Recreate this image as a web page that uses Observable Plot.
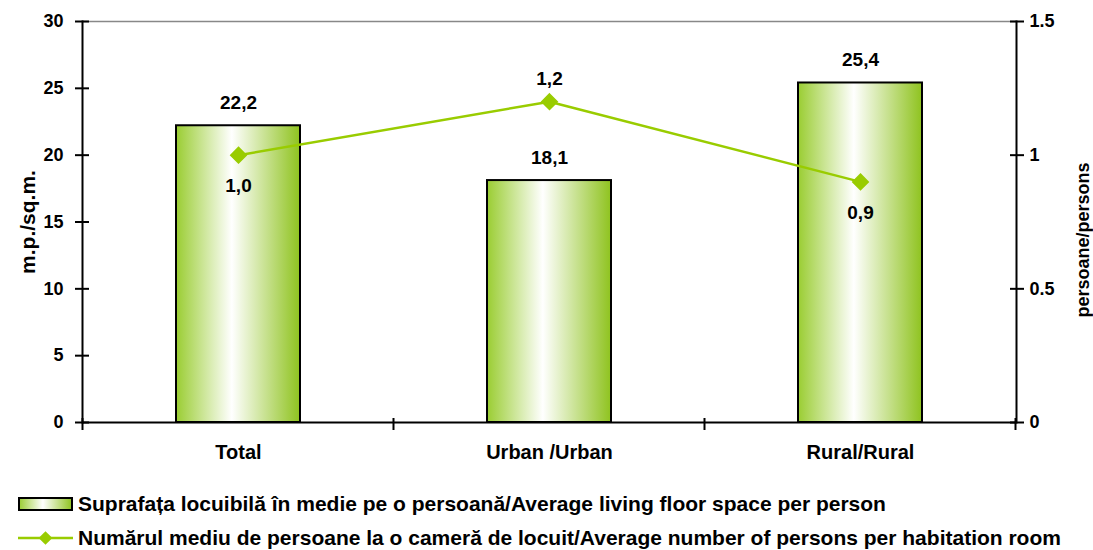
<!DOCTYPE html>
<html>
<head>
<meta charset="utf-8">
<script src="https://cdn.jsdelivr.net/npm/d3@7"></script>
<script src="https://cdn.jsdelivr.net/npm/@observablehq/plot@0.6"></script>
<style>
  html, body { margin: 0; padding: 0; background: #fff; }
  body { width: 1093px; height: 550px; position: relative; overflow: hidden;
         font-family: "Liberation Sans", Arial, sans-serif; font-weight: bold; }
  #chart { position: absolute; left: 0; top: 0; }
  .legend-item { position: absolute; left: 18px; display: flex; align-items: center;
                 font-size: 21px; color: #000; white-space: nowrap; height: 20px; }
  .legend-item svg { margin-right: 5px; flex: none; }
</style>
</head>
<body>
<div id="chart"></div>
<div class="legend-item" id="leg1" style="top:494px"></div>
<div class="legend-item" id="leg2" style="top:528px"></div>
<script>
// ---- data ----
const categories = ["Total", "Urban /Urban", "Rural/Rural"];
const floorSpace = [22.2, 18.1, 25.4];          // m.p./sq.m.
const personsPerRoom = [1.0, 1.2, 0.9];         // persoane/persons
const personLabelSide = ["below", "above", "below"];
const leftTicks = [0, 5, 10, 15, 20, 25, 30];
const rightTicks = [0, 0.5, 1, 1.5];
const seriesNames = [
  "Suprafața locuibilă în medie pe o persoană/Average living floor space per person",
  "Numărul mediu de persoane la o cameră de locuit/Average number of persons per habitation room"
];
const leftLabel = "m.p./sq.m.";
const rightLabel = "persoane/persons";

// ---- styles ----
const lineColor = "#99cc00";
const gradStops = [[0, "#9acd32"], [0.45, "#ffffff"], [1, "#8fc31f"]];
const rightMax = 1.5, leftMax = 30, k = leftMax / rightMax;

const data = categories.map((c, i) => ({
  cat: c, floor: floorSpace[i], persons: personsPerRoom[i], side: personLabelSide[i]
}));
const fmt = v => d3.format(".1f")(v).replace(".", ",");

const chart = Plot.plot({
  width: 1093,
  height: 470,
  marginLeft: 82,
  marginRight: 77,
  marginTop: 21,
  marginBottom: 48,
  style: { fontFamily: "'Liberation Sans', Arial, sans-serif", fontWeight: "bold", fontSize: "18px", color: "#000", background: "#fff" },
  x: { domain: categories, paddingInner: 0.6, paddingOuter: 0.3, axis: null },
  y: { domain: [0, leftMax], axis: null },
  marks: [
    Plot.ruleY([leftMax], { stroke: "#888", strokeWidth: 1.5 }),
    Plot.barY(data, { x: "cat", y: "floor", fill: "url(#barGrad)", stroke: "#000", strokeWidth: 2 }),
    Plot.text(data, { x: "cat", y: "floor", text: d => fmt(d.floor), dy: -23, fontSize: 19, fontWeight: "bold" }),
    Plot.line(data, { x: "cat", y: d => d.persons * k, stroke: lineColor, strokeWidth: 2.5 }),
    Plot.dot(data, { x: "cat", y: d => d.persons * k, symbol: "diamond2", r: 7, fill: lineColor, stroke: lineColor }),
    Plot.text(data, { x: "cat", y: d => d.persons * k, text: d => fmt(d.persons),
      fontSize: 19, fontWeight: "bold", filter: d => d.side === "below", dy: 31 }),
    Plot.text(data, { x: "cat", y: d => d.persons * k, text: d => fmt(d.persons),
      fontSize: 19, fontWeight: "bold", filter: d => d.side === "above", dy: -23 }),
    Plot.ruleY([0], { stroke: "#000", strokeWidth: 2 }),
    Plot.frame({ anchor: "left", stroke: "#000", strokeWidth: 2 }),
    Plot.frame({ anchor: "right", stroke: "#000", strokeWidth: 2 }),
    Plot.axisY({ anchor: "left", ticks: leftTicks, tickSize: 14, dx: 7, tickPadding: 12,
      strokeWidth: 2, fontSize: 18, label: null }),
    Plot.axisY({ anchor: "left", ticks: [], label: leftLabel, labelAnchor: "center", labelOffset: 62,
      labelArrow: "none", fontSize: 21 }),
    Plot.axisY({ anchor: "right", ticks: rightTicks.map(t => t * k), tickSize: 14, dx: -7, tickPadding: 6,
      tickFormat: v => String(v / k), strokeWidth: 2, fontSize: 18, label: null }),
    Plot.text([rightLabel], { frameAnchor: "right", text: d => d, rotate: -90, dx: 67, dy: 18,
      textAnchor: "middle", fontSize: 18, fontWeight: "bold" }),
    Plot.axisX({ anchor: "bottom", tickSize: 0, tickPadding: 22, fontSize: 20, label: null })
  ]
});
document.getElementById("chart").appendChild(chart);

// gradient definition
const svg = d3.select(chart);
const defs = svg.insert("defs", ":first-child");
const lg = defs.append("linearGradient").attr("id", "barGrad").attr("x1", 0).attr("x2", 1).attr("y1", 0).attr("y2", 0);
gradStops.forEach(([o, c]) => lg.append("stop").attr("offset", o).attr("stop-color", c));

// category boundary ticks on the bottom axis (from the band scale)
const xs = chart.scale("x"), ys = chart.scale("y");
const gap = (xs.step - xs.bandwidth) / 2;
const bounds = categories.map(c => xs.apply(c) - gap).concat([xs.apply(categories[categories.length - 1]) + xs.bandwidth + gap]);
const y0 = ys.apply(0);
svg.append("g").selectAll("line").data(bounds).join("line")
  .attr("x1", d => d).attr("x2", d => d)
  .attr("y1", y0 - 4).attr("y2", y0 + 8)
  .attr("stroke", "#000").attr("stroke-width", 2);

// legend
function swatchBar() {
  const s = d3.create("svg").attr("width", 55).attr("height", 14);
  const d = s.append("defs").append("linearGradient").attr("id", "legGrad").attr("x1", 0).attr("x2", 1);
  gradStops.forEach(([o, c]) => d.append("stop").attr("offset", o).attr("stop-color", c));
  s.append("rect").attr("x", 1).attr("y", 1).attr("width", 53).attr("height", 12)
    .attr("fill", "url(#legGrad)").attr("stroke", "#000").attr("stroke-width", 2);
  return s.node();
}
function swatchLine() {
  const s = d3.create("svg").attr("width", 55).attr("height", 14);
  s.append("line").attr("x1", 0).attr("x2", 55).attr("y1", 7).attr("y2", 7).attr("stroke", lineColor).attr("stroke-width", 2.5);
  s.append("path").attr("d", d3.symbol(d3.symbolDiamond2, 120)()).attr("transform", "translate(27.5,7)").attr("fill", lineColor);
  return s.node();
}
const l1 = document.getElementById("leg1");
l1.appendChild(swatchBar());
l1.appendChild(document.createTextNode(seriesNames[0]));
const l2 = document.getElementById("leg2");
l2.appendChild(swatchLine());
l2.appendChild(document.createTextNode(seriesNames[1]));
</script>
</body>
</html>
